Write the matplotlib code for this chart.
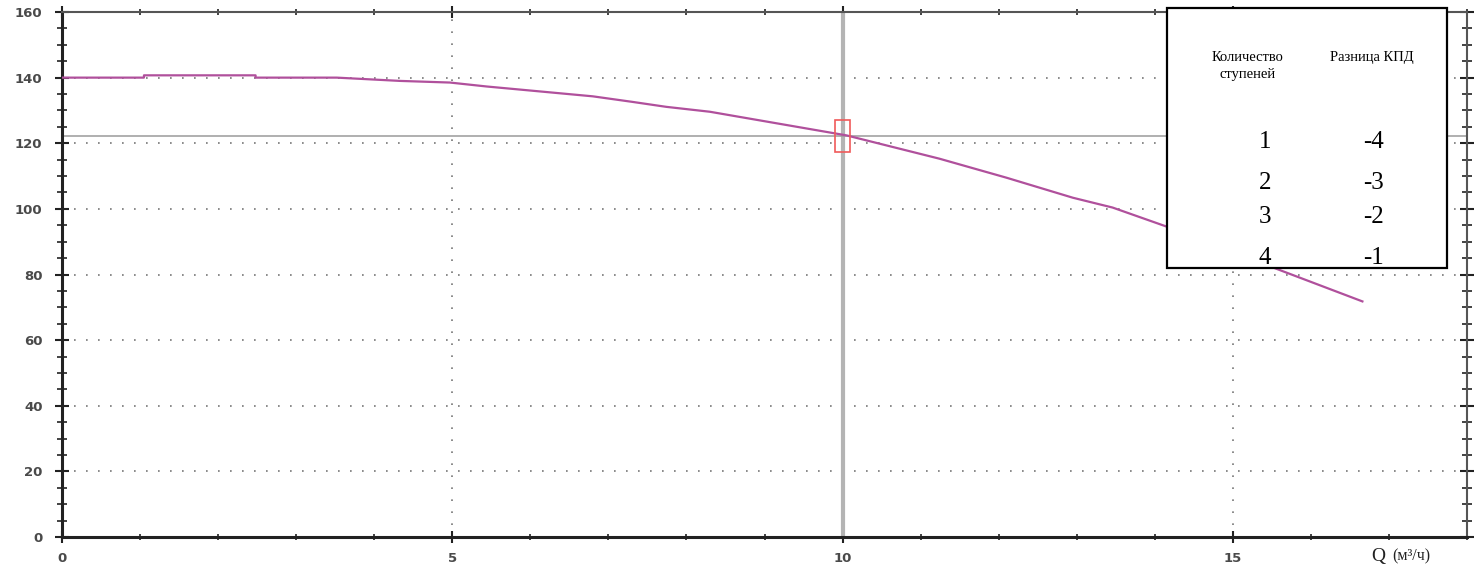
import matplotlib
matplotlib.use('Agg')
import matplotlib.pyplot as plt
from matplotlib.patches import Rectangle
from matplotlib.ticker import MultipleLocator

# pump head curve (Q in m3/h, H in m)
q = [0, 1.05, 1.05, 2.48, 2.48, 3.52, 4.33, 4.97, 5.44, 6.12, 6.80, 7.31, 7.74,
     8.30, 8.81, 10.05, 11.24, 12.10, 12.95, 13.46, 14.14, 15.64, 16.66]
h = [140, 140, 140.7, 140.7, 140, 140, 139.0, 138.5, 137.3, 135.8, 134.3, 132.6, 131.1,
     129.6, 127.5, 122.4, 115.3, 109.5, 103.4, 100.4, 94.7, 81.0, 71.8]

# duty point
q_duty = 10
h_duty = 122.3

# table in the corner
stages = [1, 2, 3, 4]
eff_diff = [-4, -3, -2, -1]
col_headers = ['Количество\nступеней', 'Разница КПД']

W, H = 1476, 577
fig = plt.figure(figsize=(W / 100, H / 100), dpi=100)
ax = fig.add_axes([62 / W, 40 / H, 1405 / W, 525 / H])

ax.set_xlim(0, 18)
ax.set_ylim(0, 160)
ax.xaxis.set_major_locator(MultipleLocator(5))
ax.xaxis.set_minor_locator(MultipleLocator(1))
ax.yaxis.set_major_locator(MultipleLocator(20))
ax.yaxis.set_minor_locator(MultipleLocator(5))

ax.grid(True, which='major', color='#777777', linestyle=(0, (1, 6.2)), linewidth=1.2)

ax.axvline(q_duty, color='#b4b4b4', linewidth=3, zorder=2)
ax.axhline(h_duty, color='#9a9a9a', linewidth=1.1, zorder=2)

ax.plot(q, h, color='#b0509c', linewidth=1.6, zorder=3)

ax.add_patch(Rectangle((q_duty - 0.1, h_duty - 5), 0.2, 9.8, fill=False,
                       edgecolor='#f05a5a', linewidth=1.2, zorder=4))

for side in ['left', 'bottom']:
    ax.spines[side].set_color('#222222')
    ax.spines[side].set_linewidth(2.2)
for side in ['top', 'right']:
    ax.spines[side].set_color('#555555')
    ax.spines[side].set_linewidth(1.5)

ax.tick_params(axis='y', which='major', direction='inout', length=10, width=1.5,
               color='#222222', labelsize=9.5, labelcolor='#4a4a4a', pad=9, right=True)
ax.tick_params(axis='y', which='minor', direction='inout', length=7, width=1.2,
               color='#222222', right=True)
ax.tick_params(axis='x', which='major', direction='inout', length=8, width=1.5,
               color='#222222', labelsize=9.5, labelcolor='#4a4a4a', pad=7, top=True)
ax.tick_params(axis='x', which='minor', direction='inout', length=4, width=1.2,
               color='#222222', top=True)
for lab in ax.get_xticklabels() + ax.get_yticklabels():
    lab.set_fontweight('bold')

# x axis label
fig.text(1378 / W, 1 - 556 / H, 'Q', fontsize=14, family='Liberation Serif',
         ha='center', va='center', color='#222222')
fig.text(1392 / W, 1 - 556 / H, '(м³/ч)', fontsize=11.5, family='Liberation Serif',
         ha='left', va='center', color='#222222')

# table box
fig.add_artist(Rectangle((1167 / W, 1 - 268 / H), 280 / W, 260 / H,
                         transform=fig.transFigure, facecolor='white',
                         edgecolor='black', linewidth=1.6, zorder=5))
fig.text(1248 / W, 1 - 66 / H, col_headers[0], fontsize=10.5, family='Liberation Serif',
         ha='center', va='center', linespacing=1.35, zorder=6)
fig.text(1372 / W, 1 - 57 / H, col_headers[1], fontsize=10.5, family='Liberation Serif',
         ha='center', va='center', zorder=6)
row_y = [142, 183, 217, 258]
for s, d, y in zip(stages, eff_diff, row_y):
    fig.text(1265 / W, 1 - y / H, str(s), fontsize=18, family='Liberation Serif',
             ha='center', va='center', zorder=6)
    fig.text(1373 / W, 1 - y / H, str(d), fontsize=18, family='Liberation Serif',
             ha='center', va='center', zorder=6)

fig.savefig('out.png', dpi=100)
